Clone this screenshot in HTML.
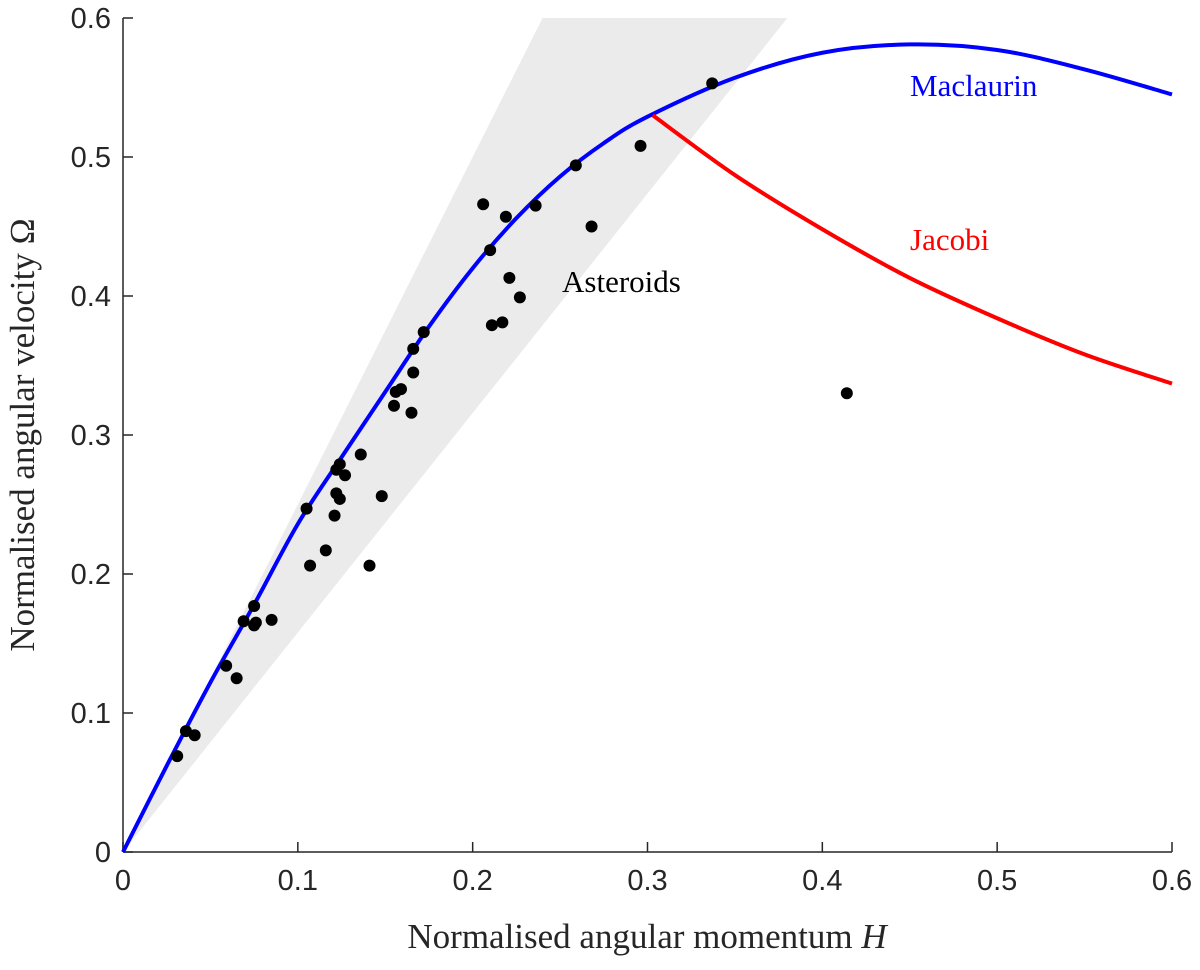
<!DOCTYPE html>
<html><head><meta charset="utf-8"><style>
html,body{margin:0;padding:0;background:#fff;}
svg text{font-family:"Liberation Sans",sans-serif;}
</style></head><body>
<svg id="chart" width="1200" height="965" xmlns="http://www.w3.org/2000/svg"></svg>
<script>
const xTicks=[0,0.1,0.2,0.3,0.4,0.5,0.6];
const yTicks=[0,0.1,0.2,0.3,0.4,0.5,0.6];
const xTickLabels=["0","0.1","0.2","0.3","0.4","0.5","0.6"];
const yTickLabels=["0","0.1","0.2","0.3","0.4","0.5","0.6"];
const maclaurinH=[0,0.025,0.05,0.075,0.1,0.125,0.15,0.175,0.2,0.225,0.25,0.275,0.3,0.35,0.4,0.45,0.5,0.55,0.6];
const maclaurinW=[0,0.062,0.122,0.178,0.236,0.284,0.331,0.378,0.42,0.456,0.486,0.51,0.529,0.557,0.575,0.581,0.577,0.563,0.545];
const jacobiH=[0.303,0.35,0.4,0.45,0.5,0.55,0.6];
const jacobiW=[0.530,0.487,0.448,0.413,0.384,0.358,0.337];
const regionH=[0,0.24,0.38];
const regionW=[0,0.6,0.6];
const astH=[0.031,0.036,0.041,0.059,0.065,0.069,0.075,0.075,0.076,0.085,0.105,0.107,0.116,0.121,0.122,0.122,0.124,0.124,0.127,0.136,0.141,0.148,0.155,0.156,0.159,0.165,0.166,0.166,0.172,0.206,0.210,0.211,0.217,0.219,0.221,0.227,0.236,0.259,0.268,0.296,0.337,0.414];
const astW=[0.069,0.087,0.084,0.134,0.125,0.166,0.177,0.163,0.165,0.167,0.247,0.206,0.217,0.242,0.258,0.275,0.279,0.254,0.271,0.286,0.206,0.256,0.321,0.331,0.333,0.316,0.362,0.345,0.374,0.466,0.433,0.379,0.381,0.457,0.413,0.399,0.465,0.494,0.450,0.508,0.553,0.330];
const X0=123,X1=1172,Y0=852,Y1=18;
const sx=v=>X0+(X1-X0)*v/0.6;
const sy=v=>Y0-(Y0-Y1)*v/0.6;
const svg=document.getElementById('chart');
const NS="http://www.w3.org/2000/svg";
function mk(tag,attrs,name,parent){const e=document.createElementNS(NS,tag);for(const k in attrs)e.setAttribute(k,attrs[k]);


(parent||svg).appendChild(e);return e;}
function smooth(xs,ys){const p=xs.map((h,i)=>[sx(h),sy(ys[i])]);let d='M'+p[0][0]+','+p[0][1];
for(let i=0;i<p.length-1;i++){const a=p[i-1]||p[i],b=p[i],c=p[i+1],e=p[i+2]||c;
d+=' C'+(b[0]+(c[0]-a[0])/6)+','+(b[1]+(c[1]-a[1])/6)+' '+(c[0]-(e[0]-b[0])/6)+','+(c[1]-(e[1]-b[1])/6)+' '+c[0]+','+c[1];}
return d;}
mk('polygon',{points:regionH.map((h,i)=>sx(h)+','+sy(regionW[i])).join(' '),fill:'#ebebeb'},'asteroid-region');
mk('line',{x1:X0,y1:Y0,x2:X1,y2:Y0,stroke:'#262626','stroke-width':1.5},'x-axis');
mk('line',{x1:X0,y1:Y0,x2:X0,y2:Y1,stroke:'#262626','stroke-width':1.5},'y-axis');
xTicks.forEach((t,i)=>{
 mk('line',{x1:sx(t),y1:Y0,x2:sx(t),y2:Y0-10,stroke:'#262626','stroke-width':1.5},'x-tick');
 const tx=mk('text',{x:sx(t),y:Y0+38,'text-anchor':'middle','font-size':29,fill:'#262626'},'x-tick-label');tx.textContent=xTickLabels[i];
});
yTicks.forEach((t,i)=>{
 mk('line',{x1:X0,y1:sy(t),x2:X0+10,y2:sy(t),stroke:'#262626','stroke-width':1.5},'y-tick');
 const tx=mk('text',{x:X0-12,y:sy(t)+10,'text-anchor':'end','font-size':29,fill:'#262626'},'y-tick-label');tx.textContent=yTickLabels[i];
});
mk('path',{d:smooth(maclaurinH,maclaurinW),fill:'none',stroke:'#0000ff','stroke-width':4},'maclaurin-curve');
mk('path',{d:smooth(jacobiH,jacobiW),fill:'none',stroke:'#ff0000','stroke-width':4},'jacobi-curve');
astH.forEach((h,i)=>{mk('circle',{cx:sx(h),cy:sy(astW[i]),r:6,fill:'#000'},'asteroid-point');});
function label(x,y,txt,col,name){const t=mk('text',{x:x,y:y,'font-size':31,fill:col,style:'font-family:"Liberation Serif",serif'},name);t.textContent=txt;return t;}
label(910,96,'Maclaurin','#0000ff','maclaurin-label');
label(910,250,'Jacobi','#ff0000','jacobi-label');
label(562,292,'Asteroids','#000','asteroids-label');
const xl=mk('text',{x:647,y:948,'text-anchor':'middle','font-size':35,fill:'#262626',style:'font-family:"Liberation Serif",serif'},'x-axis-title');
xl.innerHTML='Normalised angular momentum <tspan font-style="italic">H</tspan>';
const yl=mk('text',{x:0,y:0,'text-anchor':'middle','font-size':35,fill:'#262626',transform:'translate(34,435) rotate(-90)',style:'font-family:"Liberation Serif",serif'},'y-axis-title');
yl.textContent='Normalised angular velocity Ω';
</script>
</body></html>
